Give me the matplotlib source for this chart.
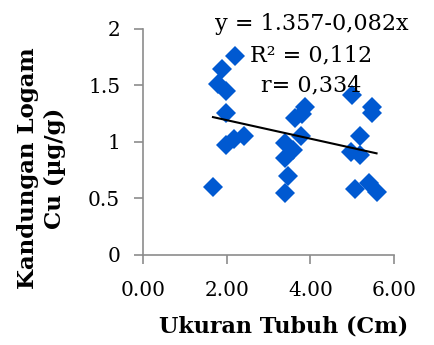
import numpy as np
import matplotlib
matplotlib.use("Agg")
import matplotlib.pyplot as plt

# Ukuran tubuh (cm) vs kandungan logam Cu (µg/g)
ukuran = [1.67, 2.19, 1.89, 1.78, 1.99, 1.99, 1.99, 2.17, 2.41,
          3.38, 3.46, 3.38, 3.58, 3.38, 3.78, 3.62, 3.80, 3.86,
          4.99, 5.48, 5.48, 5.18, 4.97, 5.18, 5.07, 5.39, 5.58]
cu = [0.60, 1.76, 1.65, 1.51, 1.45, 1.26, 0.97, 1.03, 1.05,
      0.545, 0.70, 0.855, 0.93, 0.99, 1.05, 1.21, 1.25, 1.31,
      1.415, 1.31, 1.26, 1.05, 0.915, 0.885, 0.58, 0.635, 0.56]

# trendline coefficients (as printed on the chart)
intercept = 1.357
slope = -0.082
eq_lines = ["y = 1.357-0,082x", "R² = 0,112", "r= 0,334"]

x_ticks = [0, 2, 4, 6]
y_ticks = [0, 0.5, 1, 1.5, 2]
y_ticklabels = ["0", "0.5", "1", "1.5", "2"]

plt.rcParams['font.family'] = ['DejaVu Serif']

fig = plt.figure(figsize=(4.35, 3.45), dpi=100)
ax = fig.add_axes([0.329, 0.261, 0.577, 0.655])

ax.plot(ukuran, cu, linestyle='none', marker='D', markersize=10.5,
        color='#0059D1', markeredgewidth=0)

x_line = np.array([min(ukuran), max(ukuran)])
ax.plot(x_line, intercept + slope * x_line, color='black', linewidth=1.5)

ax.set_xlim(0, 6)
ax.set_ylim(0, 2)
ax.set_xticks(x_ticks)
ax.set_xticklabels([f"{v:.2f}" for v in x_ticks])
ax.set_yticks(y_ticks)
ax.set_yticklabels(y_ticklabels)

for s in ['top', 'right']:
    ax.spines[s].set_visible(False)
for s in ['left', 'bottom']:
    ax.spines[s].set_color('#8c8c8c')
    ax.spines[s].set_linewidth(1.2)
ax.tick_params(colors='#8c8c8c', labelcolor='black', labelsize=14.5,
               length=6.5, width=1.2, direction='out')
ax.tick_params(axis='x', pad=12)
ax.tick_params(axis='y', pad=10)

ax.text(0.67, 0.885, "\n".join(eq_lines), transform=ax.transAxes,
        ha='center', va='center', fontsize=16, linespacing=1.5)

fig.text(0.652, 0.055, "Ukuran Tubuh (Cm)", ha='center', va='center',
         fontsize=16, fontweight='bold')
fig.text(0.095, 0.513, "Kandungan Logam\nCu (µg/g)", ha='center', va='center',
         rotation=90, fontsize=16.5, fontweight='bold', linespacing=1.3)

fig.savefig("out.png", dpi=100)
